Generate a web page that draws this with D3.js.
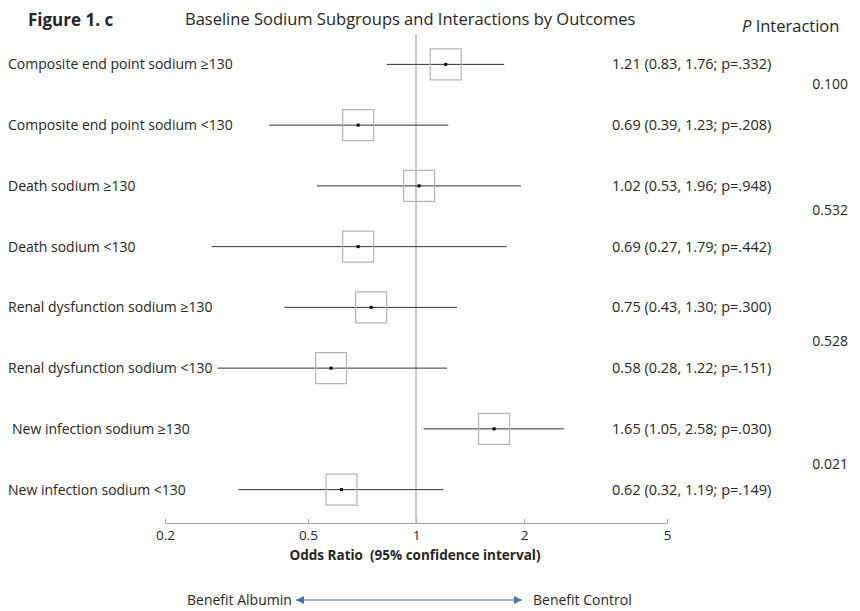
<!DOCTYPE html>
<html>
<head>
<meta charset="utf-8">
<script src="https://cdn.jsdelivr.net/npm/d3@7"></script>
<style>
  html, body { margin: 0; padding: 0; background: #fff; }
  svg { display: block; font-family: "Open Sans", "Noto Sans", sans-serif; }
  text { white-space: pre; }
</style>
</head>
<body>
<svg id="chart" width="860" height="611"></svg>
<script>
// Subgroup labels, odds ratios and 95% CIs
const labels = [
  "Composite end point sodium \u2265130",
  "Composite end point sodium <130",
  "Death sodium \u2265130",
  "Death sodium <130",
  "Renal dysfunction sodium \u2265130",
  "Renal dysfunction sodium <130",
  "New infection sodium \u2265130",
  "New infection sodium <130"
];
const oddsRatio = [1.21, 0.69, 1.02, 0.69, 0.75, 0.58, 1.65, 0.62];
const ciLow     = [0.83, 0.39, 0.53, 0.27, 0.43, 0.28, 1.05, 0.32];
const ciHigh    = [1.76, 1.23, 1.96, 1.79, 1.30, 1.22, 2.58, 1.19];
const pValues   = [".332", ".208", ".948", ".442", ".300", ".151", ".030", ".149"];
const pInteraction = ["0.100", "0.532", "0.528", "0.021"];
const tickValues = [0.2, 0.5, 1, 2, 5];

const svg = d3.select("#chart");
const textColor = "#262626";
const grey = "#a6a6a6";

const x = d3.scaleLog().domain([0.2, 5]).range([165, 667]);
const y = d3.scaleBand().domain(d3.range(labels.length)).range([34, 520]);
const rowY = i => y(i) + y.bandwidth() / 2;
// vertical offset of each interaction p-value from the midpoint of its pair of rows
const pInterShift = [-11, -6, 3, 5];

// Titles
svg.append("text").attr("x", 28).attr("y", 26)
  .attr("font-size", 17).attr("font-weight", "bold").attr("fill", textColor).text("Figure 1. c");
svg.append("text").attr("x", 185).attr("y", 25)
  .attr("font-size", 16.5).attr("fill", textColor).text("Baseline Sodium Subgroups and Interactions by Outcomes");
const pHead = svg.append("text").attr("x", 742).attr("y", 32).attr("font-size", 16.5).attr("fill", textColor);
pHead.append("tspan").attr("font-style", "italic").text("P");
pHead.append("tspan").text(" Interaction");

// Reference line at OR = 1
svg.append("line")
  .attr("x1", x(1)).attr("x2", x(1)).attr("y1", 34).attr("y2", 523)
  .attr("stroke", grey).attr("stroke-width", 1.2);

// Axis
const axis = d3.axisBottom(x).tickValues(tickValues).tickFormat(d3.format("")).tickSize(0).tickPadding(7);
const gAxis = svg.append("g").attr("transform", "translate(0,523)").call(axis);
gAxis.select(".domain").attr("stroke", grey);
gAxis.selectAll(".tick text").attr("font-size", 13.5).attr("font-family", "Open Sans, sans-serif").attr("fill", textColor);
gAxis.selectAll(".tick").append("line").attr("y1", 0).attr("y2", -4).attr("stroke", grey);

svg.append("text").attr("x", 415).attr("y", 560).attr("text-anchor", "middle")
  .attr("font-size", 13.5).attr("font-weight", "bold").attr("fill", textColor)
  .text("Odds Ratio  (95% confidence interval)");

// Rows
const rows = svg.append("g").selectAll("g").data(labels).join("g");
rows.append("text")
  .attr("x", (d, i) => i === 6 ? 12 : 8).attr("y", (d, i) => rowY(i) + 5)
  .attr("font-size", 14).attr("fill", textColor).text(d => d);
rows.append("line")
  .attr("x1", (d, i) => x(ciLow[i])).attr("x2", (d, i) => x(ciHigh[i]))
  .attr("y1", (d, i) => rowY(i)).attr("y2", (d, i) => rowY(i))
  .attr("stroke", "#333").attr("stroke-width", 1);
rows.append("rect")
  .attr("x", (d, i) => x(oddsRatio[i]) - 15.5).attr("y", (d, i) => rowY(i) - 15.5)
  .attr("width", 31).attr("height", 31)
  .attr("fill", "none").attr("stroke", "#b4b4b4").attr("stroke-width", 1.2);
rows.append("rect")
  .attr("x", (d, i) => x(oddsRatio[i]) - 1.5).attr("y", (d, i) => rowY(i) - 1.5)
  .attr("width", 3).attr("height", 3).attr("fill", "#000");
rows.append("text")
  .attr("x", 612).attr("y", (d, i) => rowY(i) + 5)
  .attr("font-size", 14.5).attr("fill", textColor)
  .text((d, i) => `${oddsRatio[i].toFixed(2)} (${ciLow[i].toFixed(2)}, ${ciHigh[i].toFixed(2)}; p=${pValues[i]})`);

// Interaction p-values sit between each pair of rows
svg.append("g").selectAll("text").data(pInteraction).join("text")
  .attr("x", 848).attr("text-anchor", "end")
  .attr("y", (d, k) => (rowY(2 * k) + rowY(2 * k + 1)) / 2 + pInterShift[k] + 5)
  .attr("font-size", 14).attr("fill", textColor).text(d => d);

// Direction arrow
const defs = svg.append("defs");
["arrowL", "arrowR"].forEach((id, k) => {
  defs.append("marker").attr("id", id).attr("viewBox", "0 0 10 10")
    .attr("refX", 10).attr("refY", 5).attr("markerWidth", 9).attr("markerHeight", 8)
    .attr("markerUnits", "userSpaceOnUse").attr("orient", k === 0 ? "auto-start-reverse" : "auto")
    .append("path").attr("d", "M0,0 L10,5 L0,10 Z").attr("fill", "#4472c4");
});
svg.append("line").attr("x1", 296).attr("x2", 522).attr("y1", 600).attr("y2", 600)
  .attr("stroke", "#4472c4").attr("stroke-width", 1.2)
  .attr("marker-start", "url(#arrowL)").attr("marker-end", "url(#arrowR)");
svg.append("text").attr("x", 187).attr("y", 605)
  .attr("font-size", 14).attr("fill", textColor).text("Benefit Albumin");
svg.append("text").attr("x", 533).attr("y", 605)
  .attr("font-size", 14).attr("fill", textColor).text("Benefit Control");
</script>
</body>
</html>
